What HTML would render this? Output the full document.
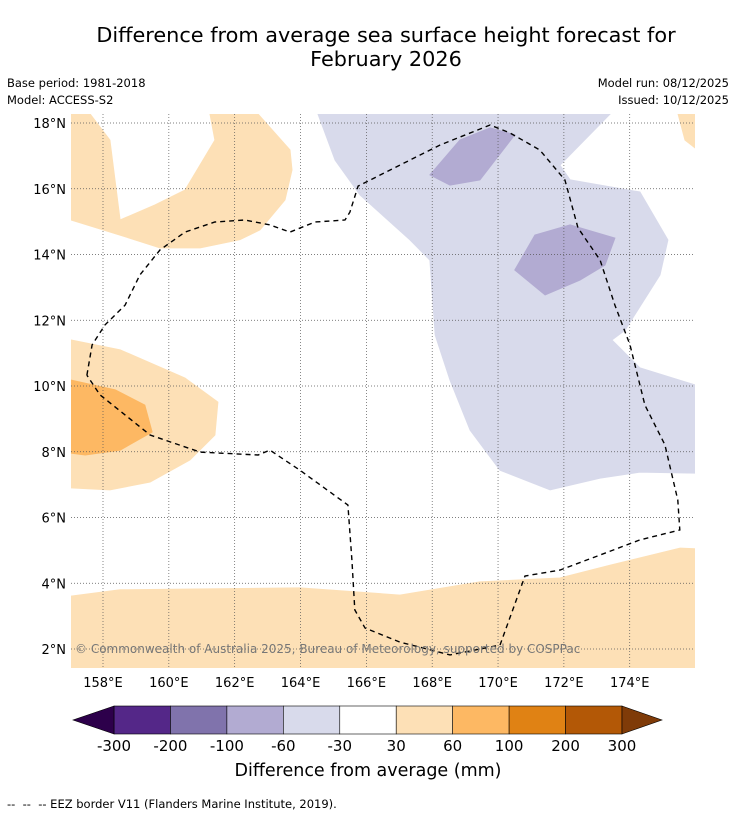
<!DOCTYPE html>
<html><head><meta charset="utf-8">
<style>
body{margin:0;background:#fff;font-family:"DejaVu Sans","Liberation Sans",sans-serif;}
#wrap{position:relative;width:736px;height:816px;overflow:hidden;background:#fff}
.t{position:absolute;white-space:nowrap;color:#000}
svg text{font-family:"DejaVu Sans","Liberation Sans",sans-serif;}
</style></head>
<body>
<div id="wrap">
<div class="t" style="left:0;width:772px;text-align:center;top:23px;font-size:20.8px;line-height:24px">Difference from average sea surface height forecast for<br>February 2026</div>
<div class="t" style="left:7px;top:76px;font-size:11.5px">Base period: 1981-2018</div>
<div class="t" style="left:7px;top:93px;font-size:11.5px">Model: ACCESS-S2</div>
<div class="t" style="right:7px;top:76px;font-size:11.5px;text-align:right">Model run: 08/12/2025</div>
<div class="t" style="right:7px;top:93px;font-size:11.5px;text-align:right">Issued: 10/12/2025</div>
<svg id="svg" width="736" height="816" style="position:absolute;left:0;top:0"></svg>
<div class="t" style="left:0;width:736px;text-align:center;top:761px;font-size:17.5px">Difference from average (mm)</div>
<div class="t" style="left:7px;top:797px;font-size:11.5px">-- &nbsp;-- &nbsp;-- EEZ border V11 (Flanders Marine Institute, 2019).</div>
</div>
<script>
// ---- data ----
const lonTicks=[158,160,162,164,166,168,170,172,174];
const latTicks=[2,4,6,8,10,12,14,16,18];
const levels=[-300,-200,-100,-60,-30,30,60,100,200,300];
const levelColors=["#542788","#8073ac","#b2abd2","#d8daeb","#ffffff","#fde0b6","#fdb863","#e08214","#b35806"];
const underColor="#2d004b", overColor="#7f3b08";
// contour polygons: lon arrays, lat arrays, level class
const polyLevels=[5,5,6,5,5,3,2,2];
const polyLon=[
 [157.03,157.61,158.21,158.52,159.58,160.49,161.40,161.25,162.71,163.68,163.74,163.53,162.77,162.16,160.95,159.73,158.52,157.03],
 [157.03,158.52,160.49,161.49,161.40,160.64,159.43,158.21,157.03],
 [157.03,158.37,159.27,159.49,158.52,157.46,157.03],
 [157.03,158.52,163.98,167.02,169.45,171.88,173.40,175.53,175.99,175.99,157.03],
 [175.47,175.68,175.99,175.99],
 [164.53,173.40,171.88,172.19,174.31,175.16,174.92,173.86,173.46,174.31,175.99,175.99,174.31,173.10,171.58,170.06,169.15,168.54,168.09,167.93,167.33,165.81,165.05],
 [167.93,168.84,169.76,170.51,169.45,168.54],
 [170.51,171.12,172.19,173.55,173.25,172.49,171.43]
];
const polyLat=[
 [18.27,18.27,17.48,15.05,15.51,15.96,17.48,18.27,18.27,17.18,16.57,15.66,14.75,14.45,14.20,14.20,14.59,15.05],
 [11.40,11.10,10.24,9.51,8.51,7.75,7.08,6.84,6.90],
 [10.18,9.88,9.42,8.60,8.05,7.90,7.96],
 [3.61,3.80,3.86,3.64,4.04,4.16,4.55,5.07,5.05,1.42,1.42],
 [18.27,17.48,17.24,18.27],
 [18.27,18.27,16.72,16.27,15.90,14.44,13.38,11.70,11.40,10.55,10.03,7.35,7.38,7.20,6.84,7.44,8.66,10.18,11.55,13.83,14.44,15.81,16.87],
 [16.42,17.48,17.85,17.64,16.27,16.11],
 [13.53,14.59,14.90,14.50,13.68,13.22,12.77]
];
const eezLon=[157.51,157.67,158.06,158.67,159.12,159.73,160.49,161.40,162.31,163.07,163.68,164.44,165.35,165.50,165.75,167.02,168.24,169.76,170.36,171.27,172.03,172.43,173.10,173.55,174.01,174.46,175.07,175.46,175.52,174.31,173.10,171.88,170.82,170.06,168.54,167.02,165.96,165.65,165.56,165.44,163.98,163.07,162.71,160.95,159.43,157.91,157.51];
const eezLat=[10.33,11.25,11.86,12.46,13.38,14.14,14.68,14.99,15.05,14.90,14.68,14.99,15.05,15.29,16.08,16.72,17.33,17.94,17.70,17.18,16.27,14.81,13.83,12.46,11.25,9.42,8.21,6.53,5.62,5.32,4.86,4.40,4.22,2.12,1.82,2.21,2.64,3.19,4.71,6.38,7.44,8.05,7.90,7.99,8.51,9.73,10.33];

// ---- axes ----
const X0=71,X1=695,Y0=114,Y1=668;
const xs=lon=>103+(lon-158)*32.92;
const ys=lat=>123+(18-lat)*32.875;
const NS="http://www.w3.org/2000/svg";
const svg=document.getElementById('svg');
function mk(tag,attrs,parent){const e=document.createElementNS(NS,tag);for(const k in attrs)e.setAttribute(k,attrs[k]);(parent||svg).appendChild(e);return e;}
const defs=mk('defs',{});
const cp=mk('clipPath',{id:'clip'},defs);mk('rect',{x:X0,y:Y0,width:X1-X0,height:Y1-Y0},cp);
const g=mk('g',{'clip-path':'url(#clip)'});
for(let i=0;i<polyLon.length;i++){
  const pts=polyLon[i].map((lo,j)=>xs(lo).toFixed(1)+','+ys(polyLat[i][j]).toFixed(1)).join(' ');
  const p=mk('polygon',{points:pts,fill:levelColors[polyLevels[i]],stroke:levelColors[polyLevels[i]],'stroke-width':1},g);
  
  
}
for(const lo of lonTicks){const l=mk('line',{x1:xs(lo),x2:xs(lo),y1:Y0,y2:Y1,stroke:'#555','stroke-width':0.7,'stroke-dasharray':'1,2'},g);
  
  const t=mk('text',{x:xs(lo),y:687,'font-size':13,'text-anchor':'middle'});t.textContent=lo+'°E';
  }
for(const la of latTicks){const l=mk('line',{x1:X0,x2:X1,y1:ys(la),y2:ys(la),stroke:'#555','stroke-width':0.7,'stroke-dasharray':'1,2'},g);
  
  const t=mk('text',{x:66,y:ys(la)+5,'font-size':13,'text-anchor':'end'});t.textContent=la+'°N';
  }
const eez=mk('polyline',{points:eezLon.map((lo,j)=>xs(lo).toFixed(1)+','+ys(eezLat[j]).toFixed(1)).join(' '),fill:'none',stroke:'#000','stroke-width':1.4,'stroke-dasharray':'5,4'},g);

const cr=mk('text',{x:75,y:653,'font-size':12,fill:'#777'});
cr.textContent='© Commonwealth of Australia 2025, Bureau of Meteorology, supported by COSPPac';


// ---- colorbar ----
const CB0=114,CB1=622,CBY=706,CBH=28;
const cbx=i=>CB0+i*(CB1-CB0)/(levels.length-1);
for(let i=0;i<levelColors.length;i++){
  const r=mk('rect',{x:cbx(i),y:CBY,width:cbx(i+1)-cbx(i),height:CBH,fill:levelColors[i],stroke:'#000','stroke-width':0.6});
  
}
const tl=mk('polygon',{points:`${CB0},${CBY} 73,${CBY+CBH/2} ${CB0},${CBY+CBH}`,fill:underColor,stroke:'#000','stroke-width':0.6});

const tr=mk('polygon',{points:`${CB1},${CBY} 662,${CBY+CBH/2} ${CB1},${CBY+CBH}`,fill:overColor,stroke:'#000','stroke-width':0.6});

levels.forEach((v,i)=>{const t=mk('text',{x:cbx(i),y:751,'font-size':15,'text-anchor':'middle'});t.textContent=v;
  });
</script>
</body></html>
